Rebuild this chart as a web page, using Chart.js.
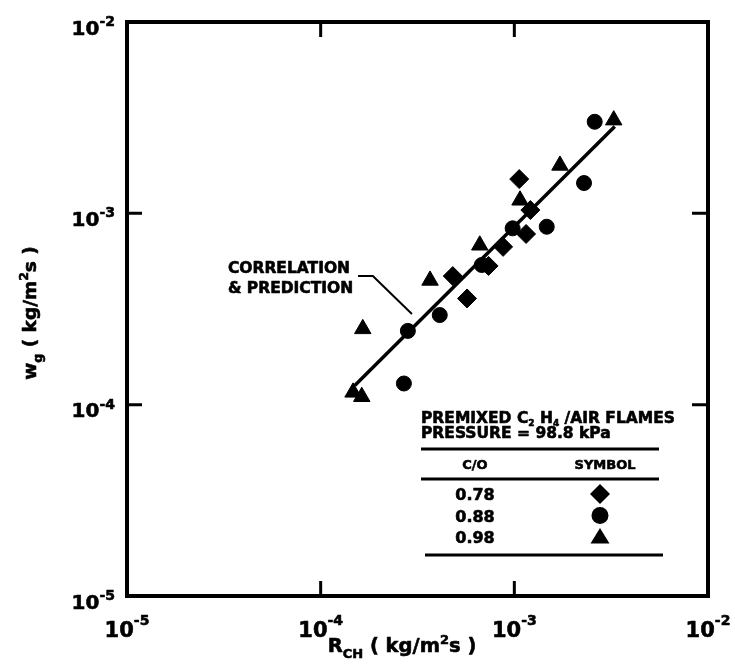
<!DOCTYPE html>
<html>
<head>
<meta charset="utf-8">
<script src="https://cdn.jsdelivr.net/npm/chart.js@4.4.1/dist/chart.umd.min.js"></script>
<style>
    html, body { margin: 0; padding: 0; background: #fff; }
    canvas { display: block; }
</style>
</head>
<body>
<canvas id="grafico" width="735" height="664"></canvas>
<script>
// C/O = 0.78 (diamonds)
const rch078 = [1.06e-3, 1.21e-3, 1.15e-3, 8.75e-4, 7.36e-4, 4.81e-4, 5.70e-4];
const wg078 = [1.51e-3, 1.04e-3, 7.80e-4, 6.68e-4, 5.31e-4, 4.70e-4, 3.59e-4];

// C/O = 0.88 (circles)
const rch088 = [2.60e-3, 2.29e-3, 1.47e-3, 9.80e-4, 6.79e-4, 4.12e-4, 2.82e-4, 2.69e-4];
const wg088 = [3.01e-3, 1.44e-3, 8.51e-4, 8.35e-4, 5.37e-4, 2.94e-4, 2.43e-4, 1.29e-4];

// C/O = 0.98 (triangles)
const rch098 = [3.26e-3, 1.72e-3, 1.07e-3, 6.63e-4, 3.67e-4, 1.65e-4, 1.47e-4, 1.63e-4];
const wg098 = [3.07e-3, 1.78e-3, 1.17e-3, 6.81e-4, 4.46e-4, 2.49e-4, 1.16e-4, 1.10e-4];

// correlation & prediction line
const fitRch = [1.50e-4, 3.30e-3];
const fitWg = [1.26e-4, 2.84e-3];

const tickValues = [1e-5, 1e-4, 1e-3, 1e-2];
const tickExponents = ['-5', '-4', '-3', '-2'];
const innerTicks = [1e-4, 1e-3];

const legendCO = ['0.78', '0.88', '0.98'];
const legendShapes = ['diamond', 'circle', 'triangle'];

// annotation anchors, in data units
const noteText = ['CORRELATION', '& PREDICTION'];
const noteX = 3.32e-5;
const noteY = [4.88e-4, 3.83e-4];
const leaderX = [1.56e-4, 1.86e-4, 2.96e-4];
const leaderY = [4.70e-4, 4.70e-4, 2.98e-4];

function points(xs, ys) {
    return xs.map((x, i) => ({ x: x, y: ys[i] }));
}

function bold(size) {
    return `bold ${size}px "DejaVu Sans", "Liberation Sans", Arial, sans-serif`;
}

// parts: [text, size, dy]
function drawRich(ctx, parts, x, y, align) {
    let width = 0;
    parts.forEach(([t, s]) => {
        ctx.font = bold(s);
        width += ctx.measureText(t).width;
    });
    let cx = x;
    if (align === 'center') cx = x - width / 2;
    if (align === 'right') cx = x - width;
    ctx.save();
    ctx.textAlign = 'left';
    ctx.textBaseline = 'alphabetic';
    ctx.lineWidth = 0.6;
    ctx.lineJoin = 'round';
    parts.forEach(([t, s, dy]) => {
        ctx.font = bold(s);
        ctx.fillText(t, cx, y + (dy || 0));
        ctx.strokeText(t, cx, y + (dy || 0));
        cx += ctx.measureText(t).width;
    });
    ctx.restore();
}

function drawShape(ctx, shape, x, y) {
    ctx.beginPath();
    if (shape === 'diamond') {
        ctx.moveTo(x - 10, y);
        ctx.lineTo(x, y - 10);
        ctx.lineTo(x + 10, y);
        ctx.lineTo(x, y + 10);
    } else if (shape === 'circle') {
        ctx.arc(x, y, 8.5, 0, Math.PI * 2);
    } else {
        ctx.moveTo(x, y - 9);
        ctx.lineTo(x + 9.5, y + 6.5);
        ctx.lineTo(x - 9.5, y + 6.5);
    }
    ctx.closePath();
    ctx.fill();
}

const decorations = {
    id: 'decorations',
    afterDatasetsDraw(chart) {
        const ctx = chart.ctx;
        const ca = chart.chartArea;
        const sx = chart.scales.x;
        const sy = chart.scales.y;
        ctx.save();
        ctx.fillStyle = '#000';
        ctx.strokeStyle = '#000';

        // frame
        ctx.lineWidth = 4;
        ctx.strokeRect(ca.left, ca.top, ca.right - ca.left, ca.bottom - ca.top);

        // inward ticks on all four sides
        ctx.lineWidth = 3;
        ctx.beginPath();
        innerTicks.forEach((v) => {
            const px = sx.getPixelForValue(v);
            const py = sy.getPixelForValue(v);
            ctx.moveTo(px, ca.bottom); ctx.lineTo(px, ca.bottom - 15);
            ctx.moveTo(px, ca.top); ctx.lineTo(px, ca.top + 15);
            ctx.moveTo(ca.left, py); ctx.lineTo(ca.left + 15, py);
            ctx.moveTo(ca.right, py); ctx.lineTo(ca.right - 16, py);
        });
        ctx.stroke();

        // tick labels 10^n
        tickValues.forEach((v, i) => {
            const px = sx.getPixelForValue(v);
            drawRich(ctx, [['10', 21, 0], [tickExponents[i], 14, -12]], px, ca.bottom + 41, 'center');
            const py = sy.getPixelForValue(v);
            drawRich(ctx, [['10', 20, 0], [tickExponents[i], 14, -8.5]], ca.left - 12, py + 12.5, 'right');
        });

        // axis titles
        drawRich(ctx, [['R', 19.5, 0], ['CH', 13, 6], [' ( kg/m', 19.5, 0], ['2', 13, -8], ['s )', 19.5, 0]],
            ca.left + 275, ca.bottom + 56, 'center');
        ctx.save();
        ctx.translate(36, (ca.top + ca.bottom) / 2 + 4);
        ctx.rotate(-Math.PI / 2);
        drawRich(ctx, [['w', 18.5, 0], ['g', 12.5, 6], [' ( kg/m', 18.5, 0], ['2', 12.5, -8], ['s )', 18.5, 0]],
            0, 0, 'center');
        ctx.restore();

        // annotation and leader
        noteText.forEach((t, i) => {
            drawRich(ctx, [[t, 15.5, 0]], sx.getPixelForValue(noteX), sy.getPixelForValue(noteY[i]), 'left');
        });
        ctx.lineWidth = 2;
        ctx.beginPath();
        leaderX.forEach((v, i) => {
            const px = sx.getPixelForValue(v);
            const py = sy.getPixelForValue(leaderY[i]);
            if (i === 0) ctx.moveTo(px, py); else ctx.lineTo(px, py);
        });
        ctx.stroke();

        // legend table
        const L = ca.left + 294;
        drawRich(ctx, [['PREMIXED C', 15.5, 0], ['2', 9, 2.5], [' H', 15.5, 0], ['4', 9, 2.5], [' /AIR FLAMES', 15.5, 0]],
            L, 423, 'left');
        drawRich(ctx, [['PRESSURE = 98.8 kPa', 15.5, 0]], L, 438, 'left');
        ctx.lineWidth = 3;
        ctx.beginPath();
        ctx.moveTo(L, 449); ctx.lineTo(L + 238, 449);
        ctx.moveTo(L, 479); ctx.lineTo(L + 238, 479);
        ctx.moveTo(L + 4, 555); ctx.lineTo(L + 242, 555);
        ctx.stroke();
        drawRich(ctx, [['C/O', 13, 0]], L + 54, 469, 'center');
        drawRich(ctx, [['SYMBOL', 13, 0]], L + 184, 469, 'center');
        const rowsY = [500, 521.5, 543];
        legendCO.forEach((t, i) => {
            drawRich(ctx, [[t, 16, 0]], L + 54, rowsY[i], 'center');
            drawShape(ctx, legendShapes[i], L + 179, rowsY[i] - 6);
        });

        ctx.restore();
    }
};

const style = {
    backgroundColor: '#000',
    borderColor: '#000',
    pointBackgroundColor: '#000',
    pointBorderColor: '#000',
    pointBorderWidth: 1,
};

const chart = new Chart(document.getElementById('grafico'), {
    type: 'scatter',
    data: {
        datasets: [
            { ...style, label: '0.78', data: points(rch078, wg078), pointStyle: 'rectRot', pointRadius: 9.5, order: 1 },
            { ...style, label: '0.88', data: points(rch088, wg088), pointStyle: 'circle', pointRadius: 7.5, order: 2 },
            { ...style, label: '0.98', data: points(rch098, wg098), pointStyle: 'triangle', pointRadius: 9.5, order: 3 },
            {
                type: 'line',
                label: 'Correlation & prediction',
                data: points(fitRch, fitWg),
                borderColor: '#000',
                borderWidth: 3.5,
                pointRadius: 0,
                fill: false,
                order: 10,
            },
        ]
    },
    options: {
        responsive: false,
        animation: false,
        layout: { padding: { left: 127, top: 22, right: 27, bottom: 68 } },
        plugins: { legend: { display: false }, tooltip: { enabled: false } },
        scales: {
            x: {
                type: 'logarithmic', min: 1e-5, max: 1e-2,
                ticks: { display: false }, grid: { display: false }, border: { display: false },
                afterFit: (s) => { s.height = 0; },
            },
            y: {
                type: 'logarithmic', min: 1e-5, max: 1e-2,
                ticks: { display: false }, grid: { display: false }, border: { display: false },
                afterFit: (s) => { s.width = 0; },
            },
        },
    },
    plugins: [decorations],
});
</script>
</body>
</html>
